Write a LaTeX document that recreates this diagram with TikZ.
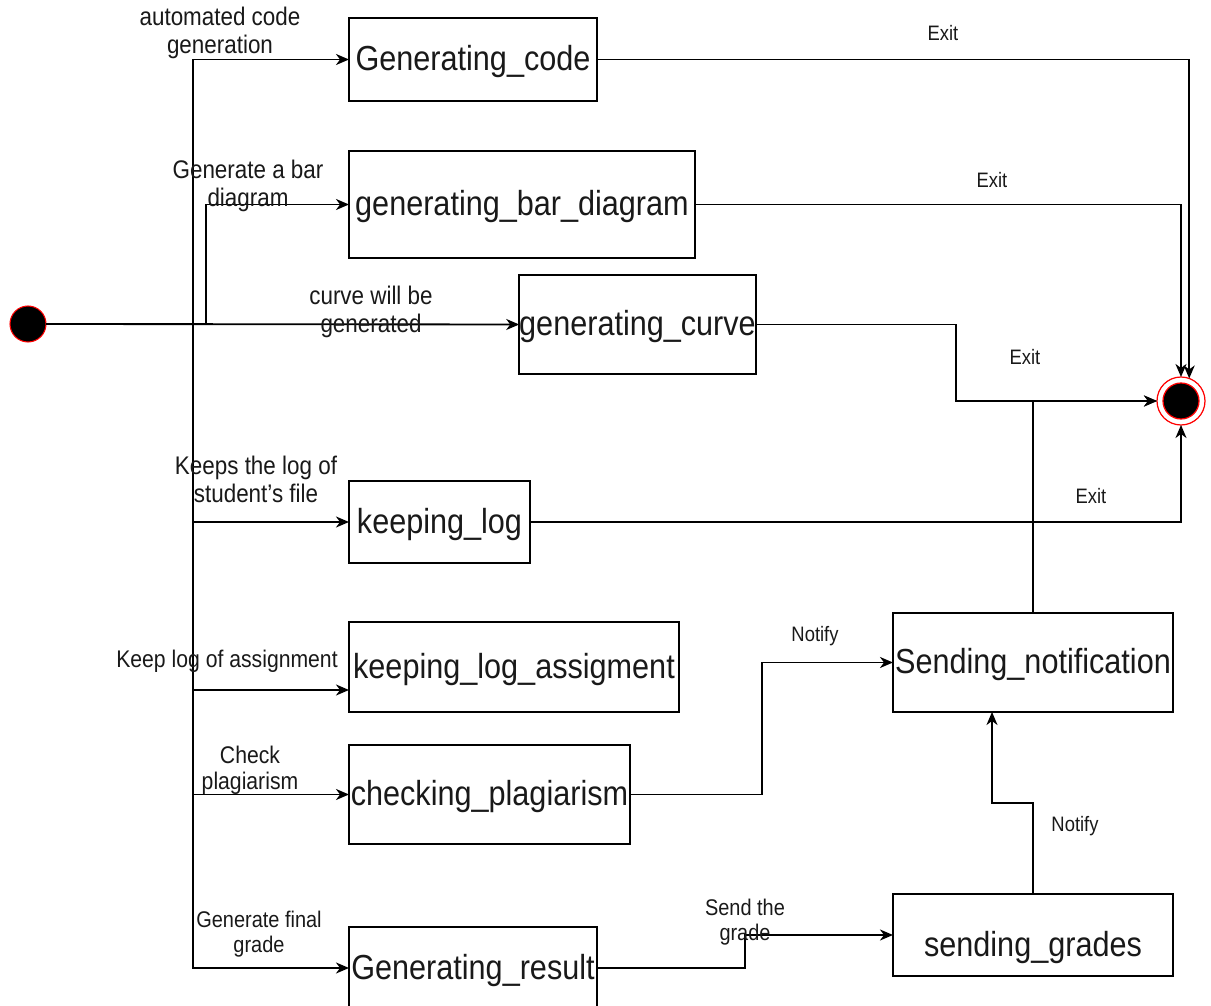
\documentclass[tikz,border=0pt]{standalone}
\usepackage{fontspec}
\setmainfont[FakeStretch=0.88]{Liberation Sans}
\usetikzlibrary{arrows.meta}

\newcommand\fntState{\fontsize{19.8pt}{23pt}\selectfont}
\newcommand\fntLab{\fontsize{14.5pt}{15.9pt}\selectfont}
\newcommand\fntLabS{\fontsize{13.7pt}{14.8pt}\selectfont}
\newcommand\fntMid{\fontsize{12.9pt}{14.2pt}\selectfont}
\newcommand\fntSm{\fontsize{11.9pt}{13pt}\selectfont}

\begin{document}
\begin{tikzpicture}[x=0.02cm,y=-0.02cm,
  every node/.style={inner sep=0pt, outer sep=0pt, text=black!90},
  statetext/.style={font=\fntState, text height=17.4pt, text depth=4.4pt},
  statebox/.style 2 args={draw, line width=0.9pt, rectangle, statetext,
    minimum width=#1*0.02cm, minimum height=#2*0.02cm},
  flow/.style={line width=1.05pt, -{Stealth[length=0.26cm,width=0.22cm,inset=0.08cm]}},
  lab/.style={align=center, font=\fntLab},
  labs/.style={align=center, font=\fntLabS},
  labm/.style={align=center, font=\fntMid},
  exitlab/.style={align=center, font=\fntSm}
]
\useasboundingbox (0,0) rectangle (1211,1006);
\clip (0,0) rectangle (1211,1006);

% initial and final pseudo-states
\node[circle, fill=black, draw=red, line width=0.6pt, minimum size=36*0.02cm] (start) at (28,324) {};
\node[circle, fill=white, draw=red, line width=0.7pt, minimum size=48*0.02cm] (end) at (1181,401) {};
\node[circle, fill=black, draw=red, line width=0.7pt, minimum size=36*0.02cm] (endcore) at (1181,401) {};

% states
\node[statebox={248}{83}]  (gc)  at (473,59.5)   {Generating\_code};
\node[statebox={346}{107}] (bd)  at (522,204.5)  {generating\_bar\_diagram};
\node[statebox={231}{99}]  (cv)  at (637.5,324.5) {generating\_curve};
\node[statebox={181}{82}]  (kl)  at (439.5,522)  {keeping\_log};
\node[statebox={330}{90}]  (kla) at (514,667)    {keeping\_log\_assigment};
\node[statebox={281}{99}]  (cp)  at (489.5,794.5) {checking\_plagiarism};
\node[statebox={248}{82}]  (gr)  at (473,968)    {Generating\_result};
\node[statebox={280}{99}]  (sn)  at (1033,662.5) {Sending\_notification};
\node[statebox={280}{82}]  (sg)  at (1033,935)   {};
\node[statetext] (sgtext) at (1033,945) {sending\_grades};

% fork from the initial state
\draw[flow] (start.east) -- (193,324) |- (gc.west);
\draw[flow] (start.east) -- (206,324) |- (bd.west);
\draw[flow] (start.east) -- (cv.west);
\draw[flow] (start.east) -- (193,324) |- (kl.west);
\draw[flow] (start.east) -- (193,324) |- ([yshift=-0.46cm]kla.west);
\draw[flow] (start.east) -- (193,324) |- (cp.west);
\draw[flow] (start.east) -- (193,324) |- (gr.west);

\node[lab]  at (220,33)  {automated code\\generation};
\node[lab]  at (248,186) {Generate a bar\\diagram};
\node[lab]  at (371,312) {curve will be\\generated};
\node[lab]  at (256,479) {Keeps the log of\\student’s file};
\node[labs] at (227,661) {Keep log of assignment};
\node[labs] at (250,770) {Check\\plagiarism};
\node[labm] at (259,934) {Generate final\\grade};

% exits to the final state
\draw[flow] (gc.east) -| (end.70.5);
\draw[flow] (bd.east) -| (end.north);
\draw[flow] (cv.east) -- (956,324.5) |- (end.west);
\draw[flow] (sn.north) |- (end.west);
\draw[flow] (kl.east) -| (end.south);

\node[exitlab] at (943,33)  {Exit};
\node[exitlab] at (992,180) {Exit};
\node[exitlab] at (1025,357) {Exit};
\node[exitlab] at (1091,496) {Exit};

% notifications
\draw[flow] (cp.east) -- (762,794.5) |- (sn.west);
\draw[flow] (gr.east) -- (745,968) -- (745,935) -- (sg.west);
\draw[flow] (sg.north) -- (1033,803) -- (992,803) -- ([xshift=-0.82cm]sn.south);

\node[exitlab] at (815,636) {Notify};
\node[exitlab] at (1075,826) {Notify};
\node[labm] at (745,922) {Send the\\grade};
\end{tikzpicture}
\end{document}
